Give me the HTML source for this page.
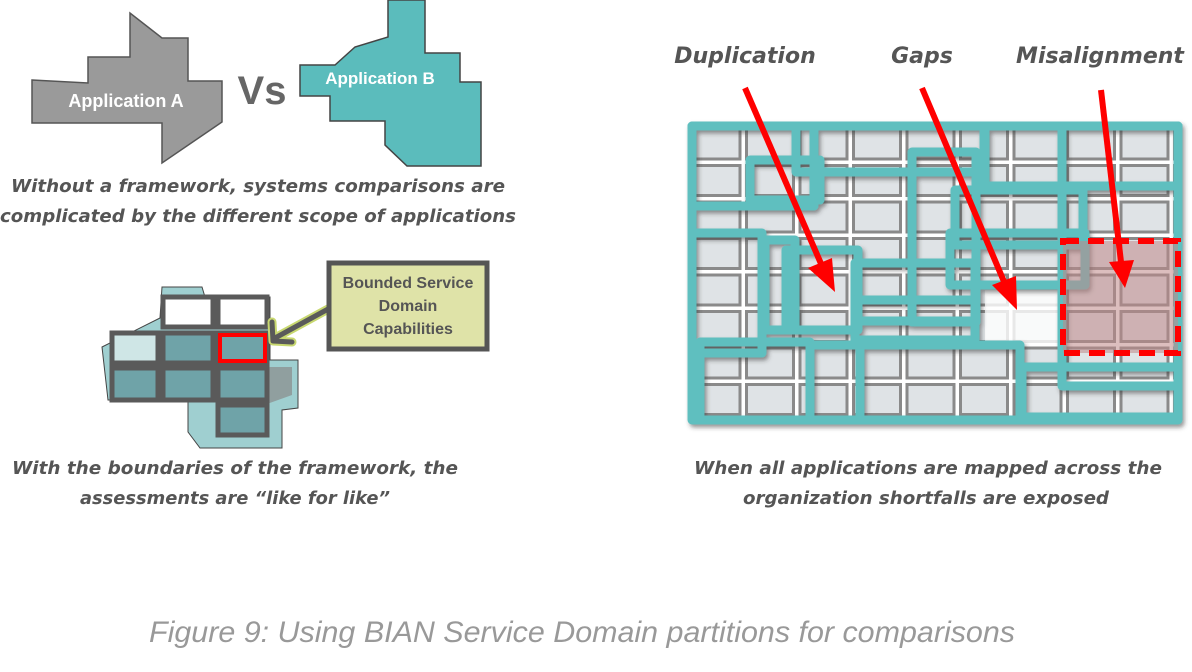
<!DOCTYPE html>
<html><head><meta charset="utf-8"><style>
body{margin:0;background:#fff;width:1192px;height:672px;overflow:hidden}
svg{display:block}
</style></head><body>
<svg width="1192" height="672" viewBox="0 0 1192 672" xmlns="http://www.w3.org/2000/svg">
<defs>
<pattern id="g" x="690" y="126" width="53.5" height="36.5" patternUnits="userSpaceOnUse">
<rect width="53.5" height="36.5" fill="#fff"/>
<rect x="3" y="3" width="47" height="30" fill="#dfe3e6" stroke="#8a8a8a" stroke-width="3"/>
</pattern>
<filter id="sh" x="-5%" y="-5%" width="110%" height="110%"><feDropShadow dx="2" dy="3" stdDeviation="2" flood-color="#333" flood-opacity=".5"/></filter>
</defs>

<polygon points="32,80 88,83 88,57 130,57 130,13 162,38 188,38 188,81 222,81 222,122 162,163 162,123 32,123" fill="#9a9a9a" stroke="#555" stroke-width="1.5"/>
<text x="126" y="107" font-family="Liberation Sans,sans-serif" font-weight="bold" font-size="18" fill="#fff" text-anchor="middle">Application A</text>
<text x="262" y="104" font-family="Liberation Sans,sans-serif" font-weight="bold" font-size="40" fill="#666" text-anchor="middle">Vs</text>
<polygon points="300,65 335,65 355,47 388,37 388,0 425,0 425,53 460,53 460,82 481,82 481,166 407,166 385,145 385,121 330,121 330,96 300,96" fill="#5bbcbc" stroke="#444" stroke-width="1.5"/>
<text x="380" y="84" font-family="Liberation Sans,sans-serif" font-weight="bold" font-size="17" fill="#fff" text-anchor="middle">Application B</text>
<g font-family="DejaVu Sans,Liberation Sans,sans-serif" font-style="italic" font-weight="bold" font-size="18" fill="#555" text-anchor="middle">
<text x="258" y="192" textLength="494" lengthAdjust="spacingAndGlyphs">Without a framework, systems comparisons are</text>
<text x="258" y="222" textLength="516" lengthAdjust="spacingAndGlyphs">complicated by the different scope of applications</text>
<text x="235" y="474" textLength="446" lengthAdjust="spacingAndGlyphs">With the boundaries of the framework, the</text>
<text x="235" y="504" textLength="310" lengthAdjust="spacingAndGlyphs">assessments are “like for like”</text>
<text x="928" y="474" textLength="468" lengthAdjust="spacingAndGlyphs">When all applications are mapped across the</text>
<text x="926" y="504" textLength="366" lengthAdjust="spacingAndGlyphs">organization shortfalls are exposed</text>
</g>

<polygon points="102,347 160,318 162,287 202,287 205,297 270,297 270,360 298,360 298,408 282,410 282,448 200,448 188,432 188,400 108,400" fill="#9fcfd0" stroke="#444" stroke-width="1"/>
<polygon points="250,367 292,367 292,395 250,410" fill="#8a8a8a" opacity=".7"/>
<g fill="#6fa3a8" stroke="#5a5a5a" stroke-width="5">
<rect x="163" y="297" width="50" height="30" fill="#fff"/><rect x="218" y="297" width="49" height="30" fill="#fff"/>
<rect x="112" y="333" width="46" height="30" fill="#cfe6e6"/><rect x="163" y="333" width="50" height="30"/><rect x="218" y="333" width="49" height="30"/>
<rect x="112" y="368" width="46" height="32"/><rect x="163" y="368" width="50" height="32"/><rect x="218" y="368" width="49" height="32"/>
<rect x="218" y="405" width="49" height="30"/>
</g>
<rect x="220" y="335" width="45" height="26" fill="none" stroke="#f00" stroke-width="4"/>
<g stroke-linecap="round" stroke-linejoin="round" fill="none">
<path d="M330,308 L275,338 M272,322 L273,341 L292,342" stroke="#c8d870" stroke-width="9"/>
<path d="M330,308 L275,338 M272,322 L273,341 L292,342" stroke="#5a5a5a" stroke-width="5"/>
</g>
<rect x="329" y="263" width="158" height="86" fill="#dfe3a8" stroke="#555" stroke-width="5"/>
<g font-family="Liberation Sans,sans-serif" font-size="16" fill="#555" text-anchor="middle" font-weight="bold">
<text x="408" y="288">Bounded Service</text><text x="408" y="311">Domain</text><text x="408" y="334">Capabilities</text></g>

<rect x="690" y="126" width="490" height="294" fill="url(#g)"/>
<rect x="985" y="290" width="75" height="55" fill="#fff" opacity=".8"/>
<g fill="none" stroke="#5fbfbf" stroke-width="9" stroke-linejoin="round" filter="url(#sh)">
<rect x="692" y="126" width="122" height="80"/>
<rect x="796" y="126" width="188" height="46"/>
<rect x="985" y="126" width="193" height="60"/>
<rect x="1062" y="126" width="116" height="260"/>
<rect x="750" y="160" width="70" height="40"/>
<rect x="912" y="152" width="64" height="170"/>
<rect x="955" y="190" width="128" height="55"/>
<rect x="950" y="233" width="135" height="52"/>
<rect x="692" y="233" width="70" height="120"/>
<rect x="765" y="240" width="30" height="90"/>
<rect x="786" y="250" width="72" height="80"/>
<rect x="855" y="263" width="120" height="58"/>
<rect x="855" y="300" width="120" height="40"/>
<rect x="700" y="342" width="110" height="78"/>
<rect x="860" y="345" width="160" height="75"/>
<rect x="1022" y="367" width="156" height="50"/>
<rect x="810" y="345" width="50" height="75"/>
<rect x="692" y="126" width="486" height="294"/>
</g>
<rect x="1063" y="241" width="115" height="112" fill="#c08888" fill-opacity=".55" stroke="#f00" stroke-width="6" stroke-dasharray="16 9"/>
<g fill="#f00">
<line x1="745" y1="88" x2="822" y2="266" stroke="#f00" stroke-width="6"/>
<polygon points="835,292 808,268 832,258"/>
<line x1="922" y1="88" x2="1005" y2="284" stroke="#f00" stroke-width="6"/>
<polygon points="1017,310 992,285 1016,276"/>
<line x1="1101" y1="90" x2="1121" y2="262" stroke="#f00" stroke-width="6"/>
<polygon points="1125,288 1109,262 1134,260"/>
</g>
<g font-family="DejaVu Sans,Liberation Sans,sans-serif" font-style="italic" font-weight="bold" font-size="22" fill="#555" text-anchor="middle">
<text x="745" y="63">Duplication</text><text x="922" y="63">Gaps</text><text x="1100" y="63">Misalignment</text></g>
<text x="582" y="642" font-family="Liberation Sans,sans-serif" font-style="italic" font-size="30" fill="#999" text-anchor="middle" textLength="866" lengthAdjust="spacingAndGlyphs">Figure 9: Using BIAN Service Domain partitions for comparisons</text>
</svg>
</body></html>
